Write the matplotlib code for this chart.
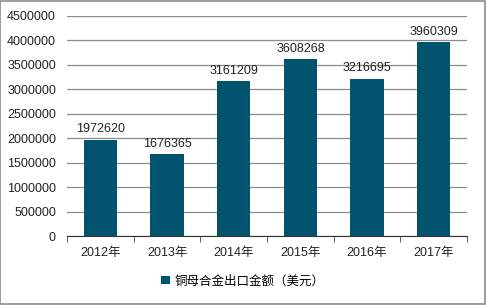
import matplotlib
matplotlib.use("Agg")
import matplotlib.pyplot as plt
from matplotlib.patches import Rectangle

plt.rcParams['font.family'] = ['Liberation Sans', 'Noto Sans CJK SC', 'DejaVu Sans']

years = ["2012年", "2013年", "2014年", "2015年", "2016年", "2017年"]
values = [1972620, 1676365, 3161209, 3608268, 3216695, 3960309]
series_name = "铜母合金出口金额（美元）"

bar_color = "#02536d"

fig = plt.figure(figsize=(4.86, 3.05), dpi=100)
ax = fig.add_axes([0.138, 0.226, 0.823, 0.722])

x = range(len(years))
bars = ax.bar(x, values, width=0.5, color=bar_color, label=series_name, zorder=3)
for xi, v in zip(x, values):
    ax.text(xi, v + 90000, str(v), ha="center", va="bottom", fontsize=9, color="#222222", zorder=4)

ax.set_ylim(0, 4500000)
ax.set_xlim(-0.5, len(years) - 0.5)
ax.set_yticks(range(0, 4500001, 500000))
ax.set_yticklabels([str(t) for t in range(0, 4500001, 500000)])
ax.set_xticks(list(x))
ax.set_xticklabels(years)
ax.tick_params(axis="y", length=0, labelsize=9, colors="#222222", pad=8)
ax.tick_params(axis="x", length=0, labelsize=9, colors="#222222", pad=8)
# category separator ticks
ax.set_xticks([i - 0.5 for i in range(len(years) + 1)], minor=True)
ax.tick_params(axis="x", which="minor", length=4, color="#444444")

ax.grid(axis="y", color="#8c8c8c", linewidth=0.9, zorder=0)
for s in ["top", "right", "left"]:
    ax.spines[s].set_visible(False)
ax.spines["bottom"].set_color("#333333")

leg = fig.legend(loc="center", bbox_to_anchor=(0.5, 0.078), frameon=False,
                 fontsize=9, handlelength=0.7, handleheight=0.7, handletextpad=0.4)

fig.patches.append(Rectangle((0.001, 0.002), 0.997, 0.995, transform=fig.transFigure,
                             fill=False, edgecolor="#8c8c8c", linewidth=1.2))

fig.savefig("out.png", dpi=100)
